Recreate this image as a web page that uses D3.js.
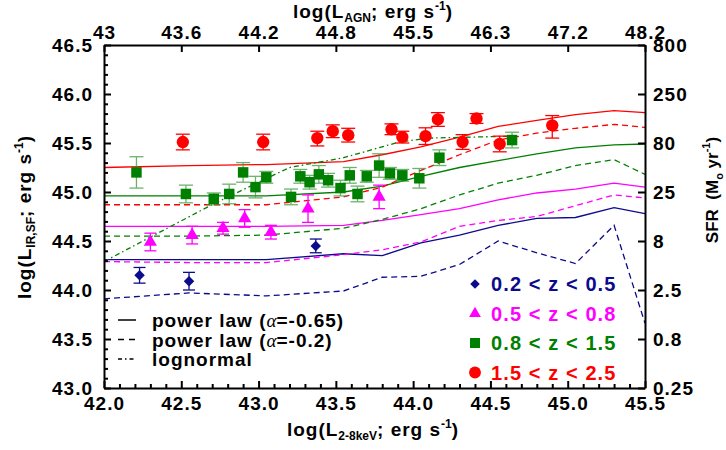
<!DOCTYPE html>
<html><head><meta charset="utf-8">
<script src="https://cdn.jsdelivr.net/npm/d3@7"></script>
<style>
body{margin:0;background:#fff;}
text{font-family:"Liberation Sans",Arial,Helvetica,sans-serif;font-weight:bold;}
</style></head>
<body><svg id="c" width="726" height="450"></svg>
<script>
// ---------- data ----------
const xTicks = [42.0, 42.5, 43.0, 43.5, 44.0, 44.5, 45.0, 45.5];
const yTicks = [43.0, 43.5, 44.0, 44.5, 45.0, 45.5, 46.0, 46.5];
const topLabels = ["43", "43.6", "44.2", "44.8", "45.5", "46.3", "47.2", "48.2"];
const sfrLabels = ["0.25", "0.8", "2.5", "8", "25", "80", "250", "800"];

const redX = [42.51, 43.03, 43.38, 43.48, 43.58, 43.86, 43.93, 44.08, 44.16, 44.32, 44.41, 44.56, 44.90];
const redY = [45.51, 45.51, 45.55, 45.62, 45.58, 45.64, 45.56, 45.57, 45.74, 45.51, 45.75, 45.49, 45.68];
const redErrHi = [0.08, 0.08, 0.07, 0.065, 0.07, 0.055, 0.06, 0.085, 0.07, 0.075, 0.05, 0.08, 0.10];
const redErrLo = [0.08, 0.08, 0.08, 0.065, 0.07, 0.055, 0.06, 0.085, 0.07, 0.075, 0.05, 0.08, 0.13];

const greenX = [42.21, 42.53, 42.71, 42.81, 42.90, 42.98, 43.05, 43.21, 43.27, 43.33, 43.39, 43.45, 43.53, 43.59, 43.64, 43.70, 43.78, 43.85, 43.93, 44.04, 44.17, 44.64];
const greenY = [45.20, 44.98, 44.93, 44.98, 45.20, 45.05, 45.15, 44.95, 45.16, 45.10, 45.18, 45.12, 45.04, 45.17, 44.98, 45.16, 45.27, 45.19, 45.17, 45.14, 45.35, 45.53];
const greenErr = [0.16, 0.09, 0.06, 0.10, 0.10, 0.11, 0.06, 0.08, 0.07, 0.07, 0.09, 0.07, 0.08, 0.08, 0.08, 0.06, 0.12, 0.06, 0.06, 0.10, 0.08, 0.08];

const magX = [42.30, 42.57, 42.77, 42.91, 43.08, 43.32, 43.78];
const magY = [44.49, 44.56, 44.63, 44.73, 44.59, 44.83, 44.95];
const magErr = [0.09, 0.09, 0.06, 0.09, 0.07, 0.14, 0.12];

const navyX = [42.23, 42.55, 43.37];
const navyY = [44.15, 44.09, 44.45];
const navyErr = [0.08, 0.09, 0.07];

const modelX = [42.0, 42.55, 43.05, 43.55, 43.8, 44.05, 44.3, 44.55, 44.8, 45.05, 45.3, 45.5];
const redSolid    = [45.25, 45.27, 45.28, 45.31, 45.38, 45.46, 45.56, 45.67, 45.73, 45.79, 45.83, 45.81];
const redDashed   = [44.87, 44.87, 44.87, 44.95, 45.05, 45.22, 45.38, 45.53, 45.60, 45.65, 45.69, 45.66];
const greenSolid  = [44.96, 44.96, 44.96, 45.00, 45.06, 45.16, 45.25, 45.32, 45.39, 45.45, 45.48, 45.49];
const greenDashed = [44.55, 44.55, 44.56, 44.63, 44.72, 44.83, 44.97, 45.09, 45.17, 45.27, 45.33, 45.18];
const magSolid    = [44.65, 44.65, 44.65, 44.66, 44.71, 44.77, 44.83, 44.92, 44.99, 45.03, 45.09, 45.05];
const magDashed   = [44.29, 44.28, 44.28, 44.36, 44.41, 44.49, 44.65, 44.71, 44.75, 44.86, 44.97, 44.94];
const navySolid   = [44.31, 44.31, 44.31, 44.37, 44.35, 44.48, 44.56, 44.66, 44.73, 44.74, 44.84, 44.78];
const navyDashed  = [43.91, 43.97, 43.94, 43.99, 44.13, 44.14, 44.26, 44.50, 44.38, 44.27, 44.66, 43.66];

const lognX = [42.0, 42.71, 43.20, 43.55, 43.91, 44.10, 44.65];
const lognY = [44.29, 44.88, 45.25, 45.35, 45.51, 45.55, 45.57];

const legendLines = ["power law (", "power law (", "lognormal"];
const legendAlpha = ["-0.65)", "-0.2)"];
const zLabels = ["0.2 < z < 0.5", "0.5 < z < 0.8", "0.8 < z < 1.5", "1.5 < z < 2.5"];

// ---------- layout ----------
const L = 104, R = 645, T = 45, B = 388;
const x = d3.scaleLinear().domain([42, 45.5]).range([L, R]);
const y = d3.scaleLinear().domain([43, 46.5]).range([B, T]);
const svg = d3.select("#c");

const C = {navy: "#0b0b8c", mag: "#ff00ff", green: "#008000", red: "#ff0000"};
const FS = 19, LS = "1px";

// ---------- model lines ----------
const line = d3.line().x(d => x(d[0])).y(d => y(d[1]));
function drawLine(xs, ys, color, dash) {
  svg.append("path").datum(xs.map((v, i) => [v, ys[i]]))
    .attr("d", line).attr("fill", "none").attr("stroke", color)
    .attr("stroke-width", 1.3).attr("stroke-dasharray", dash || null);
}

drawLine(modelX, navySolid, C.navy);
drawLine(modelX, navyDashed, C.navy, "6,4");
drawLine(modelX, magSolid, C.mag);
drawLine(modelX, magDashed, C.mag, "6,4");
drawLine(modelX, greenSolid, C.green);
drawLine(modelX, greenDashed, C.green, "6,4");
drawLine(modelX, redSolid, C.red);
drawLine(modelX, redDashed, C.red, "6,4");
drawLine(lognX, lognY, C.green, "5,3,1.5,3");

// ---------- points ----------
function errBars(xs, ys, lo, hi, color, cap, opacity) {
  const g = svg.append("g").attr("stroke", color).attr("stroke-width", 1.3).attr("opacity", opacity || 1);
  xs.forEach((xv, i) => {
    const x0 = x(xv), y1 = y(ys[i] + hi[i]), y2 = y(ys[i] - lo[i]);
    g.append("line").attr("x1", x0).attr("x2", x0).attr("y1", y1).attr("y2", y2);
    g.append("line").attr("x1", x0 - cap).attr("x2", x0 + cap).attr("y1", y1).attr("y2", y1);
    g.append("line").attr("x1", x0 - cap).attr("x2", x0 + cap).attr("y1", y2).attr("y2", y2);
  });
}
errBars(greenX, greenY, greenErr, greenErr, "#3a9a3a", 7, 0.75);
errBars(magX, magY, magErr, magErr, C.mag, 6);
errBars(navyX, navyY, navyErr, navyErr, C.navy, 6);
errBars(redX, redY, redErrLo, redErrHi, C.red, 7);

const sym = (type, size) => d3.symbol().type(type).size(size)();
function pts(xs, ys, type, size, color, rot) {
  svg.append("g").selectAll("path").data(xs).join("path")
    .attr("d", sym(type, size)).attr("fill", color)
    .attr("transform", (d, i) => `translate(${x(d)},${y(ys[i])}) rotate(${rot || 0})`);
}
pts(greenX, greenY, d3.symbolSquare, 110, C.green);
pts(magX, magY, d3.symbolTriangle, 75, C.mag);
pts(navyX, navyY, d3.symbolSquare, 55, C.navy, 45);
pts(redX, redY, d3.symbolCircle, 120, C.red);

// ---------- axes ----------
function styleAxis(g) {
  g.select(".domain").attr("stroke", "#000").attr("stroke-width", 2);
  g.selectAll(".tick line").attr("stroke", "#000").attr("stroke-width", 2);
  g.selectAll("text").attr("fill", "#000").attr("font-size", FS).attr("letter-spacing", LS)
    .attr("font-family", "Liberation Sans, Arial, sans-serif").attr("font-weight", "bold");
}
const minorX = d3.range(42, 45.501, 0.1).filter(v => Math.abs(v * 2 - Math.round(v * 2)) > 0.01);
const minorY = d3.range(43, 46.501, 0.1).filter(v => Math.abs(v * 2 - Math.round(v * 2)) > 0.01);

svg.append("g").attr("transform", `translate(0,${B})`)
  .call(d3.axisBottom(x).tickValues(minorX).tickSize(-4).tickFormat(""))
  .call(g => { g.select(".domain").remove(); g.selectAll("line").attr("stroke", "#000").attr("stroke-width", 2); });
svg.append("g").attr("transform", `translate(${L},0)`)
  .call(d3.axisLeft(y).tickValues(minorY).tickSize(-4).tickFormat(""))
  .call(g => { g.select(".domain").remove(); g.selectAll("line").attr("stroke", "#000").attr("stroke-width", 2); });

svg.append("g").attr("transform", `translate(0,${B})`)
  .call(d3.axisBottom(x).tickValues(xTicks).tickSize(-7).tickSizeOuter(0).tickPadding(9).tickFormat(d3.format(".1f")))
  .call(styleAxis);
svg.append("g").attr("transform", `translate(${L},0)`)
  .call(d3.axisLeft(y).tickValues(yTicks).tickSize(-7).tickSizeOuter(0).tickPadding(11).tickFormat(d3.format(".1f")))
  .call(styleAxis);
svg.append("g").attr("transform", `translate(0,${T})`)
  .call(d3.axisTop(x).tickValues(xTicks).tickSize(-7).tickSizeOuter(0).tickPadding(6).tickFormat((d, i) => topLabels[i]))
  .call(styleAxis);
svg.append("g").attr("transform", `translate(${R},0)`)
  .call(d3.axisRight(y).tickValues(yTicks).tickSize(-7).tickSizeOuter(0).tickPadding(8).tickFormat((d, i) => sfrLabels[i]))
  .call(styleAxis);

// ---------- axis titles ----------
function titled(sel, sub) {
  sel.append("tspan").text("log(L");
  sel.append("tspan").attr("font-size", 12).attr("dy", 4).attr("letter-spacing", "0px").text(sub);
  sel.append("tspan").attr("dy", -4).text("; erg s");
  sel.append("tspan").attr("font-size", 12).attr("dy", -8).attr("letter-spacing", "0px").text("-1");
  sel.append("tspan").attr("dy", 8).text(")");
}
titled(svg.append("text").attr("x", 373).attr("y", 436).attr("text-anchor", "middle").attr("font-size", 19).attr("letter-spacing", LS), "2-8keV");
titled(svg.append("text").attr("x", 373).attr("y", 18).attr("text-anchor", "middle").attr("font-size", 19).attr("letter-spacing", LS), "AGN");
titled(svg.append("text").attr("transform", "translate(31,217) rotate(-90)").attr("text-anchor", "middle").attr("font-size", 19).attr("letter-spacing", LS), "IR,SF");

const tr = svg.append("text").attr("transform", "translate(718,190) rotate(-90)").attr("text-anchor", "middle").attr("font-size", 17);
tr.append("tspan").text("SFR\u00a0\u00a0(M");
tr.append("tspan").attr("font-size", 11).attr("dy", 5).text("o");
tr.append("tspan").attr("dy", -5).text(" yr");
tr.append("tspan").attr("font-size", 11).attr("dy", -8).text("-1");
tr.append("tspan").attr("dy", 8).text(")");

// ---------- legend (line styles) ----------
const dashes = [null, "6,5", "4,3,1.5,3"];
legendLines.forEach((t, i) => {
  const yy = 320 + i * 19.5;
  svg.append("line").attr("x1", 118).attr("x2", 136).attr("y1", yy).attr("y2", yy)
    .attr("stroke", "#000").attr("stroke-width", 1.5).attr("stroke-dasharray", dashes[i]);
  const tx = svg.append("text").attr("x", 152).attr("y", yy + 7).attr("font-size", 19).attr("letter-spacing", LS);
  tx.append("tspan").text(t);
  if (i < 2) {
    tx.append("tspan").attr("font-family", "Liberation Serif, Times New Roman, serif").attr("font-style", "italic")
      .attr("font-weight", "normal").attr("letter-spacing", "0px").text("\u03b1");
    tx.append("tspan").text("=" + legendAlpha[i]);
  }
});

// ---------- legend (redshift bins) ----------
const zColors = [C.navy, C.mag, C.green, C.red];
const zSyms = [d3.symbolSquare, d3.symbolTriangle, d3.symbolSquare, d3.symbolCircle];
const zSizes = [45, 60, 100, 110];
const zRot = [45, 0, 0, 0];
zLabels.forEach((t, i) => {
  const yy = 284 + i * 29.5;
  svg.append("path").attr("d", sym(zSyms[i], zSizes[i])).attr("fill", zColors[i])
    .attr("transform", `translate(475,${yy}) rotate(${zRot[i]})`);
  svg.append("text").attr("x", 491).attr("y", yy + 7).attr("font-size", 20).attr("letter-spacing", "1.1px")
    .attr("fill", zColors[i]).text(t);
});
</script></body></html>
